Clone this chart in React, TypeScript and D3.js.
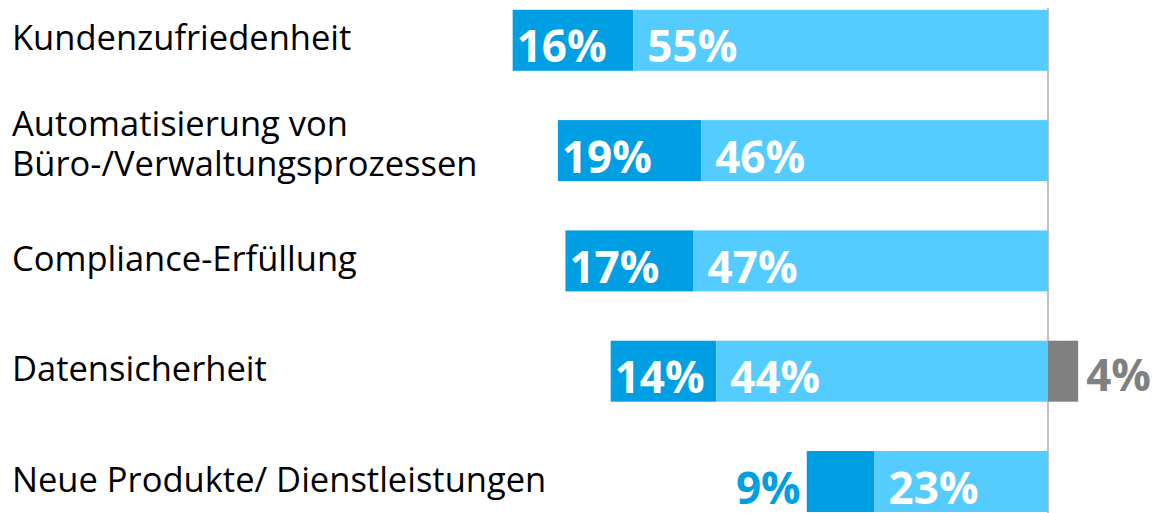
import React from 'react';
import * as d3 from 'd3';

const categories = [
  'Kundenzufriedenheit',
  'Automatisierung von\nBüro-/Verwaltungsprozessen',
  'Compliance-Erfüllung',
  'Datensicherheit',
  'Neue Produkte/ Dienstleistungen',
];
const strongValues = [16, 19, 17, 14, 9];
const moderateValues = [55, 46, 47, 44, 23];
const negativeValues = [0, 0, 0, 4, 0];

const DARK = '#009fe3';
const LIGHT = '#55ccff';
const GREY = '#808080';
const W = 1154;
const H = 513;

export default function App() {
  // x: percent, negative = left of baseline
  const x = d3.scaleLinear().domain([-75, 10]).range([482.5, 1123.4]);
  const y = d3.scaleBand<string>()
    .domain(categories)
    .range([9.8, 512])
    .paddingInner(0.447)
    .paddingOuter(0);
  const bh = y.bandwidth();
  const valueFont = { fontFamily: '"Open Sans", sans-serif', fontWeight: 700, fontSize: 44 };

  return (
    <svg width={W} height={H} style={{ position: 'absolute', left: 0, top: 0, background: '#fff' }}>
      <line x1={x(0)} x2={x(0)} y1={8} y2={H} stroke="#bfbfbf" strokeWidth={2} />
      {categories.map((cat, i) => {
        const top = y(cat)!;
        const mid = top + bh / 2;
        const s = strongValues[i];
        const m = moderateValues[i];
        const n = negativeValues[i];
        const lines = cat.split('\n');
        const lh = 40;
        const first = mid + 10 - (lines.length - 1) * (lh / 2 + 5);
        return (
          <g key={cat}>
            <text x={12} y={first} fontFamily='"Open Sans", sans-serif' fontSize={34.5} fill="#000">
              {lines.map((l, j) => (
                <tspan key={j} x={12} dy={j === 0 ? 0 : lh}>{l}</tspan>
              ))}
            </text>
            <rect x={x(-(s + m))} y={top} width={x(-m) - x(-(s + m))} height={bh} fill={DARK} />
            <rect x={x(-m)} y={top} width={x(0) - x(-m)} height={bh} fill={LIGHT} />
            {n > 0 && <rect x={x(0)} y={top} width={x(n) - x(0)} height={bh} fill={GREY} />}
            {s < 10 ? (
              <text x={x(-(s + m)) - 6} y={mid + 22} textAnchor="end" fill={DARK} style={valueFont}>{s}%</text>
            ) : (
              <text x={x(-(s + m)) + 4} y={mid + 22} fill="#fff" style={valueFont}>{s}%</text>
            )}
            <text x={x(-m) + 14} y={mid + 22} fill="#fff" style={valueFont}>{m}%</text>
            {n > 0 && (
              <text x={x(n) + 8} y={mid + 20} fill={GREY} style={valueFont}>{n}%</text>
            )}
          </g>
        );
      })}
    </svg>
  );
}
